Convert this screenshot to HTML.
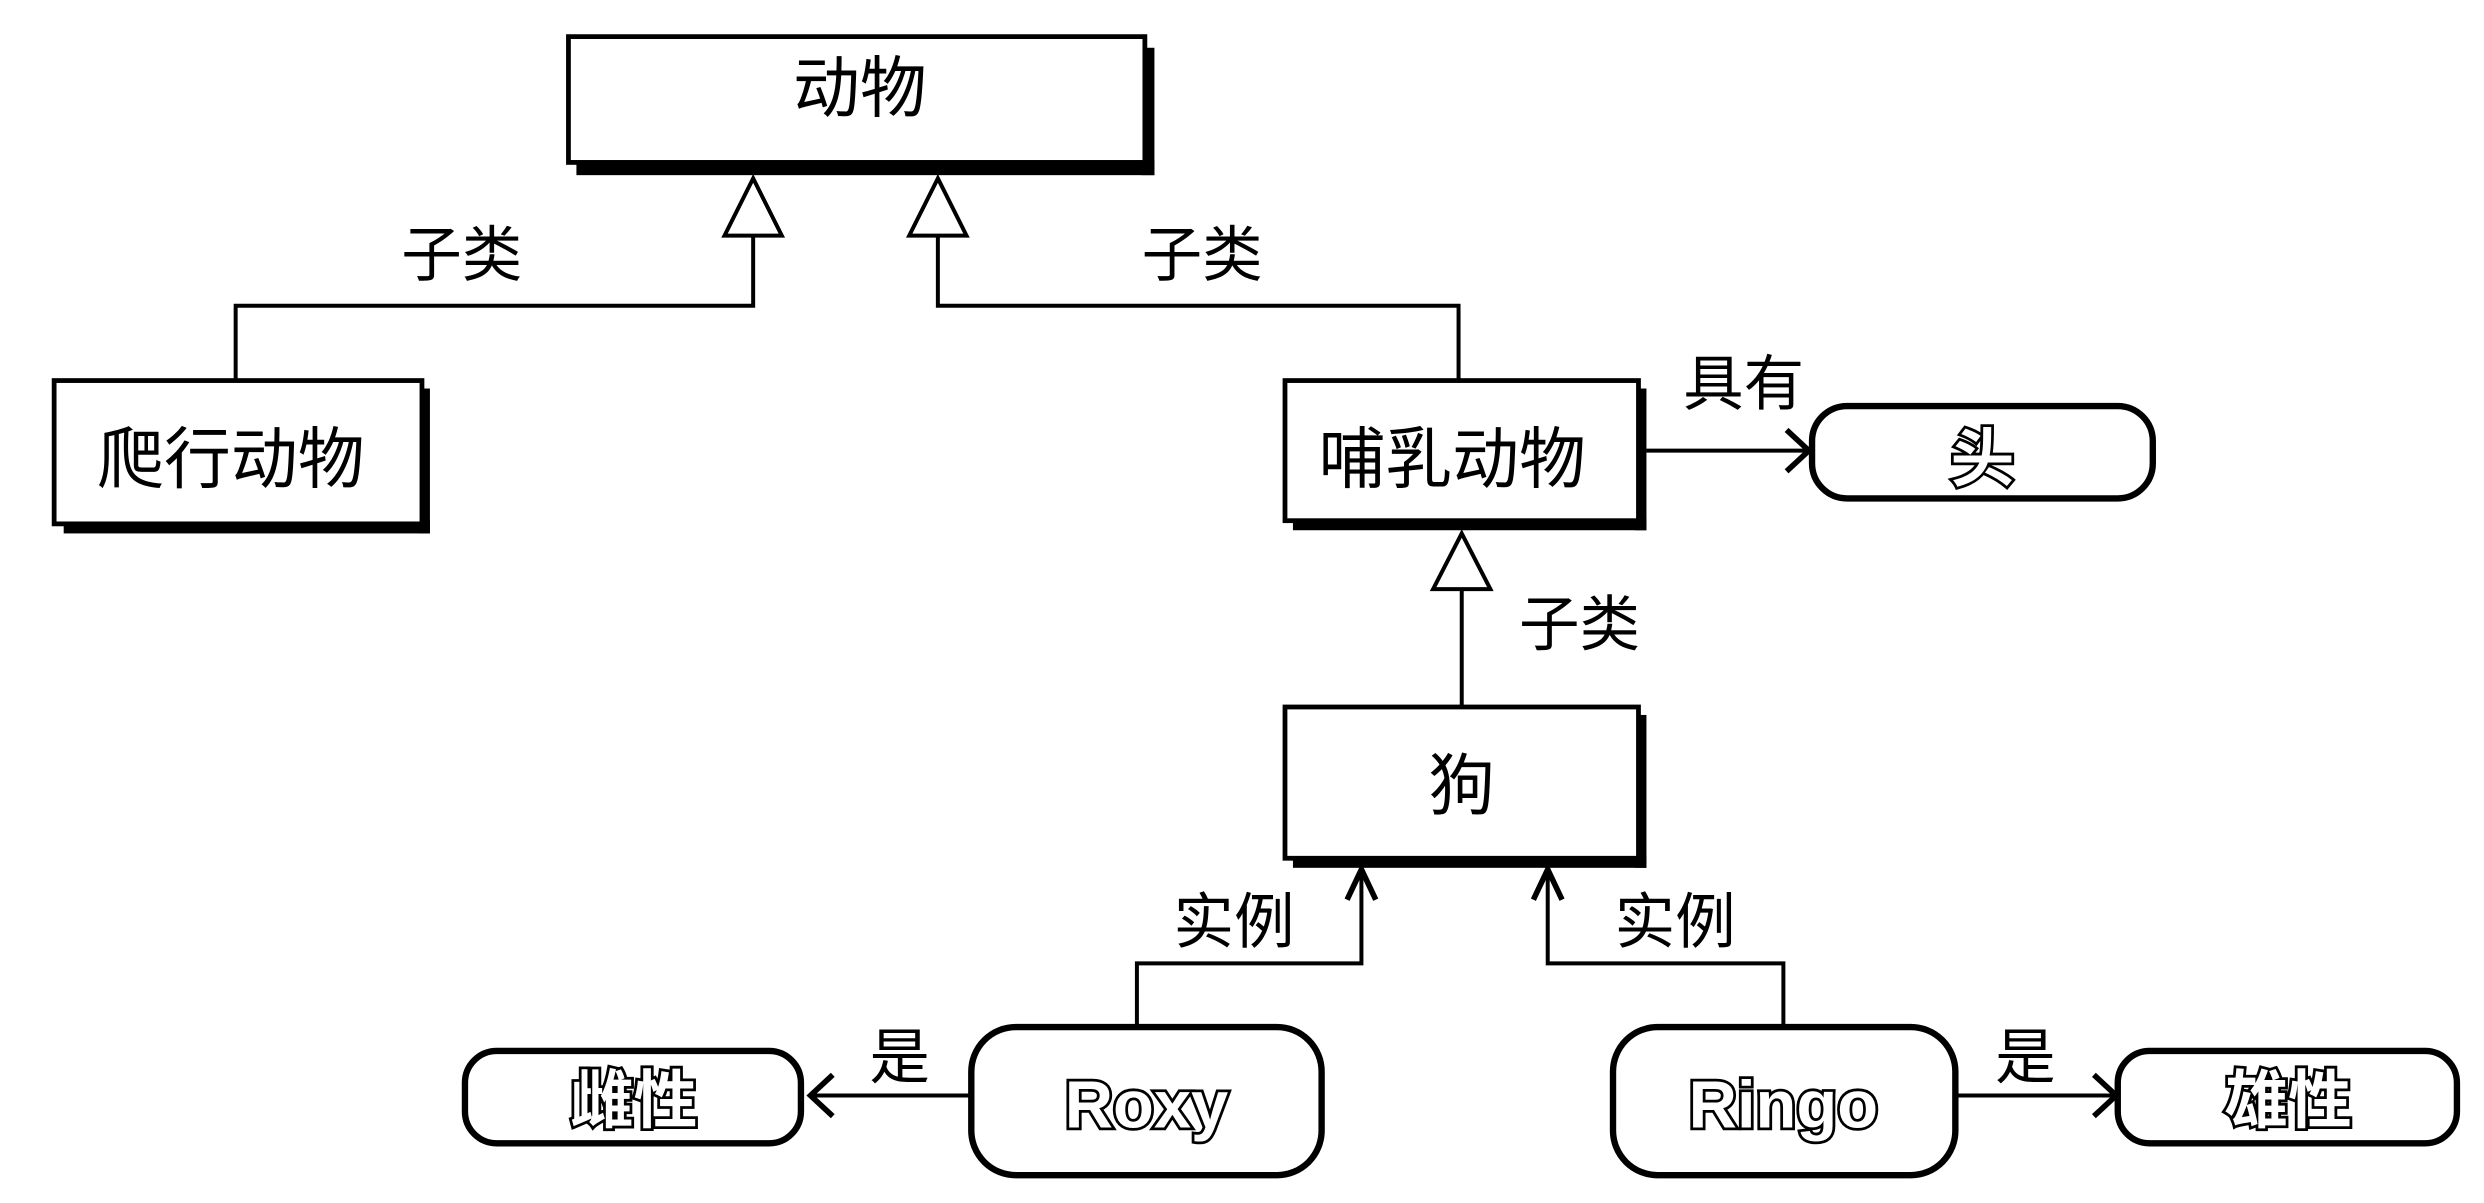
<!DOCTYPE html>
<html><head><meta charset="utf-8"><style>
html,body{margin:0;padding:0;background:#fff;}
svg{display:block;}
text{font-family:"Liberation Sans","Noto Sans CJK SC",sans-serif;}
</style></head><body>
<svg width="2484" height="1203" viewBox="0 0 1560 755.5" preserveAspectRatio="none" xmlns="http://www.w3.org/2000/svg">
<g fill="none" stroke="#000">
<g fill="#000" stroke="none">
<rect x="362" y="100" width="363" height="10"/><rect x="717" y="30" width="8" height="80"/>
<rect x="40" y="327" width="230" height="8"/><rect x="263" y="244" width="7" height="91"/>
<rect x="812" y="325" width="222" height="8"/><rect x="1027" y="244" width="7" height="89"/>
<rect x="812" y="537" width="222" height="8"/><rect x="1027" y="449" width="7" height="96"/>
</g>
<rect x="357" y="23" width="362" height="79" fill="#fff" stroke-width="3"/>
<rect x="34" y="239" width="231" height="90" fill="#fff" stroke-width="3"/>
<rect x="807" y="239" width="222" height="88" fill="#fff" stroke-width="3"/>
<rect x="807" y="444" width="222" height="95" fill="#fff" stroke-width="3"/>
<rect x="1138" y="255" width="214" height="58" rx="22" fill="#fff" stroke-width="4"/>
<rect x="292" y="660" width="211" height="58" rx="20" fill="#fff" stroke-width="4"/>
<rect x="1330" y="660" width="213" height="58" rx="20" fill="#fff" stroke-width="4"/>
<rect x="610" y="645" width="220" height="93" rx="28" fill="#fff" stroke-width="4"/>
<rect x="1013" y="645" width="215" height="93" rx="28" fill="#fff" stroke-width="4"/>
<g stroke-width="2.5">
<polyline points="473,148 473,192 148,192 148,239"/>
<polyline points="589,148 589,192 916,192 916,239"/>
<polygon points="473,112 455,148 491,148" fill="#fff"/>
<polygon points="589,112 571,148 607,148" fill="#fff"/>
<polyline points="918,370 918,444"/>
<polygon points="918,335 900,370 936,370" fill="#fff"/>
<line x1="1034" y1="283" x2="1135" y2="283"/>
<polyline points="1122,270 1136,283 1122,296" stroke-width="3.5"/>
<polyline points="714,645 714,605 855,605 855,548"/>
<polyline points="846,565 855,546 864,565" stroke-width="3.5"/>
<polyline points="1120,645 1120,605 972,605 972,548"/>
<polyline points="963,565 972,546 981,565" stroke-width="3.5"/>
<line x1="610" y1="688" x2="510" y2="688"/>
<polyline points="523,675 509,688 523,701" stroke-width="3.5"/>
<line x1="1228" y1="688" x2="1328" y2="688"/>
<polyline points="1315,675 1329,688 1315,701" stroke-width="3.5"/>
</g>
</g>
<g font-size="42" fill="#000" text-anchor="middle">
<text x="540" y="70">动物</text>
<text x="145" y="303">爬行动物</text>
<text x="912" y="303">哺乳动物</text>
<text x="918" y="508">狗</text>
</g>
<g font-size="38" fill="#000" text-anchor="middle">
<text x="290" y="173">子类</text>
<text x="755" y="173">子类</text>
<text x="1095" y="254">具有</text>
<text x="992" y="405">子类</text>
<text x="775" y="592">实例</text>
<text x="1052" y="592">实例</text>
<text x="565" y="677">是</text>
<text x="1272" y="677">是</text>
</g>
<g fill="#fff" stroke="#000" stroke-width="3.5" font-weight="bold" text-anchor="middle" paint-order="stroke">
<text x="1245" y="302" font-size="40">头</text>
<text x="398" y="705" font-size="40">雌性</text>
<text x="1437" y="705" font-size="40">雄性</text>
<text x="720" y="708" font-size="42">Roxy</text>
<text x="1120" y="708" font-size="42">Ringo</text>
</g>
</svg>
</body></html>
